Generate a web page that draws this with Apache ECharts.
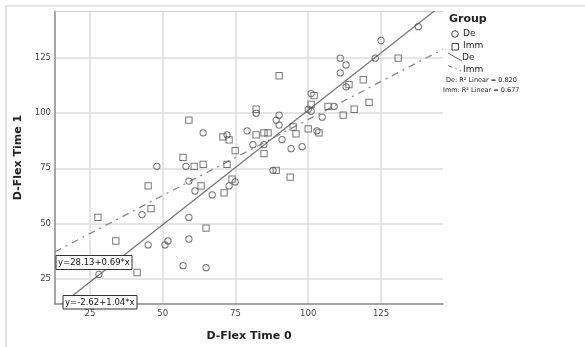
<!DOCTYPE html>
<html>
<head>
<meta charset="utf-8">
<script src="https://cdn.jsdelivr.net/npm/echarts@6/dist/echarts.min.js"></script>
<style>html,body{margin:0;padding:0;background:#fff}#c{width:585px;height:347px}</style>
</head>
<body>
<div id="c"></div>
<script>
const xTicks = [25, 50, 75, 100, 125];
const yTicks = [25, 50, 75, 100, 125];
const xRange = [13, 146.3];
const yRange = [13.4, 146.4];
const deData = [[28.1,26.8],[42.9,54],[45,40.2],[48,75.9],[50.8,40.2],[51.8,42],[58,75.9],[59,69.2],[61.1,64.7],[67,62.9],[59,52.7],[59,42.9],[57,30.8],[64.9,29.9],[63.9,91.1],[72.1,90.2],[79,92],[82.1,100],[81,85.7],[84.8,85.7],[72.8,67],[74.9,68.8],[87.9,74.1],[90,99.1],[89,96.9],[90,94.6],[91,88],[94.1,83.9],[97.9,84.8],[101,108.9],[100,101.8],[101,100.9],[103,92],[108.9,103.1],[104.8,98.2],[113,112],[113,121.9],[111,118.3],[111,125],[123,125],[125,133],[137.8,139.3]];
const immData = [[27.75,52.7],[33.9,42],[41.2,27.7],[45,67],[46,56.7],[57,80],[60.8,75.9],[63.9,76.8],[63.2,67],[64.9,47.8],[59,96.9],[70.7,89.3],[72.8,87.9],[82.1,101.8],[82.1,90.2],[84.8,91.1],[86.2,91.1],[84.8,81.7],[74.9,83],[72.1,76.8],[73.8,70.1],[71.1,63.8],[89,74.1],[93.8,71],[90,117],[94.8,93.75],[95.8,90.6],[102,108],[101,104],[100,92.9],[103.7,91.1],[106.8,103.1],[112,99.1],[115.8,101.8],[120.9,104.9],[118.9,115.2],[114,113],[130.9,125]];
const fitDe = [-2.62, 1.04];
const fitImm = [28.13, 0.69];
const r2Labels = ['De: R\u00b2 Linear = 0.820', 'Imm: R\u00b2 Linear = 0.677'];
const eqDe = 'y=-2.62+1.04*x';
const eqImm = 'y=28.13+0.69*x';

function fitLine(c) {
  let x0 = xRange[0], y0 = c[0] + c[1] * x0;
  if (y0 < yRange[0]) { x0 = (yRange[0] - c[0]) / c[1]; y0 = yRange[0]; }
  let x1 = xRange[1], y1 = c[0] + c[1] * x1;
  if (y1 > yRange[1]) { x1 = (yRange[1] - c[0]) / c[1]; y1 = yRange[1]; }
  return [[x0, y0], [x1, y1]];
}

const chart = echarts.init(document.getElementById('c'), null, {renderer: 'canvas'});
const tickFont = {fontFamily: 'DejaVu Sans', fontSize: 8.5, color: '#444'};
const nameFont = {fontFamily: 'DejaVu Sans', fontSize: 11, fontWeight: 'bold', color: '#222'};
chart.setOption({
  animation: false,
  backgroundColor: '#fff',
  grid: {left: 55, right: 142, top: 11, bottom: 38},
  xAxis: [{
    type: 'value', min: xRange[0], max: xRange[1],
    name: 'D-Flex Time 0', nameLocation: 'middle', nameGap: 27, nameTextStyle: nameFont,
    axisLine: {show: true, onZero: false, lineStyle: {color: '#888', width: 1.5}},
    axisTick: {show: false, customValues: xTicks},
    axisLabel: {customValues: xTicks, margin: 5, ...tickFont},
    splitLine: {show: true, lineStyle: {color: '#dcdcdc', width: 1.5}}
  }, {
    type: 'value', position: 'top', min: xRange[0], max: xRange[1],
    axisLine: {show: true, lineStyle: {color: '#d0d0d0', width: 1}},
    axisTick: {show: false}, axisLabel: {show: false}, splitLine: {show: false}
  }],
  yAxis: {
    type: 'value', min: yRange[0], max: yRange[1],
    name: 'D-Flex Time 1', nameLocation: 'middle', nameGap: 24, nameTextStyle: nameFont,
    axisLine: {show: true, onZero: false, lineStyle: {color: '#888', width: 1.5}},
    axisTick: {show: false, customValues: yTicks},
    axisLabel: {customValues: yTicks, margin: 4, ...tickFont},
    splitLine: {show: true, lineStyle: {color: '#dcdcdc', width: 1.5}}
  },
  series: [
    {name: 'De', type: 'scatter', data: deData, symbol: 'circle', symbolSize: 6.3, z: 3,
     itemStyle: {color: 'rgba(0,0,0,0)', borderColor: '#555', borderWidth: 1}},
    {name: 'Imm', type: 'scatter', data: immData, symbol: 'rect', symbolSize: 6.3, z: 3,
     itemStyle: {color: 'rgba(0,0,0,0)', borderColor: '#555', borderWidth: 1}},
    {name: 'De fit', type: 'line', data: fitLine(fitDe), symbol: 'none', z: 2,
     lineStyle: {color: '#777', width: 1.3, type: 'solid'}},
    {name: 'Imm fit', type: 'line', data: fitLine(fitImm), symbol: 'none', z: 2,
     lineStyle: {color: '#888', width: 1.3, type: [7, 5, 2, 5]}}
  ],
  graphic: [
    {type: 'rect', shape: {x: 6, y: 6, width: 600, height: 400}, style: {fill: 'none', stroke: '#c8c8c8', lineWidth: 1}, silent: true},
    {type: 'text', x: 449, y: 14, style: {text: 'Group', font: 'bold 11px "DejaVu Sans"', fill: '#222'}},
    {type: 'circle', shape: {cx: 455, cy: 34, r: 3.3}, style: {fill: 'none', stroke: '#444', lineWidth: 1}},
    {type: 'text', x: 463, y: 29, style: {text: 'De', font: '9px "DejaVu Sans"', fill: '#222'}},
    {type: 'rect', shape: {x: 452, y: 43.5, width: 6.5, height: 6.5}, style: {fill: 'none', stroke: '#444', lineWidth: 1}},
    {type: 'text', x: 463, y: 41, style: {text: 'Imm', font: '9px "DejaVu Sans"', fill: '#222'}},
    {type: 'line', shape: {x1: 448, y1: 53, x2: 462, y2: 61}, style: {stroke: '#666', lineWidth: 1}},
    {type: 'text', x: 462, y: 53, style: {text: 'De', font: '9px "DejaVu Sans"', fill: '#222'}},
    {type: 'line', shape: {x1: 448, y1: 65.5, x2: 461, y2: 71}, style: {stroke: '#777', lineWidth: 1, lineDash: [5, 3, 1.5, 3]}},
    {type: 'text', x: 463, y: 65, style: {text: 'Imm', font: '9px "DejaVu Sans"', fill: '#222'}},
    {type: 'text', x: 446, y: 77, style: {text: r2Labels[0], font: '6.5px "DejaVu Sans"', fill: '#222'}},
    {type: 'text', x: 443, y: 87, style: {text: r2Labels[1], font: '6.5px "DejaVu Sans"', fill: '#222'}},
    {type: 'rect', shape: {x: 56, y: 255.5, width: 76, height: 14}, style: {fill: '#fff', stroke: '#333', lineWidth: 1}, z: 10},
    {type: 'text', x: 58, y: 258, z: 11, style: {text: eqImm, font: '8.5px "DejaVu Sans"', fill: '#111'}},
    {type: 'rect', shape: {x: 63, y: 295.5, width: 74, height: 13.5}, style: {fill: '#fff', stroke: '#333', lineWidth: 1}, z: 10},
    {type: 'text', x: 65, y: 298, z: 11, style: {text: eqDe, font: '8.5px "DejaVu Sans"', fill: '#111'}}
  ]
});
</script>
</body>
</html>
